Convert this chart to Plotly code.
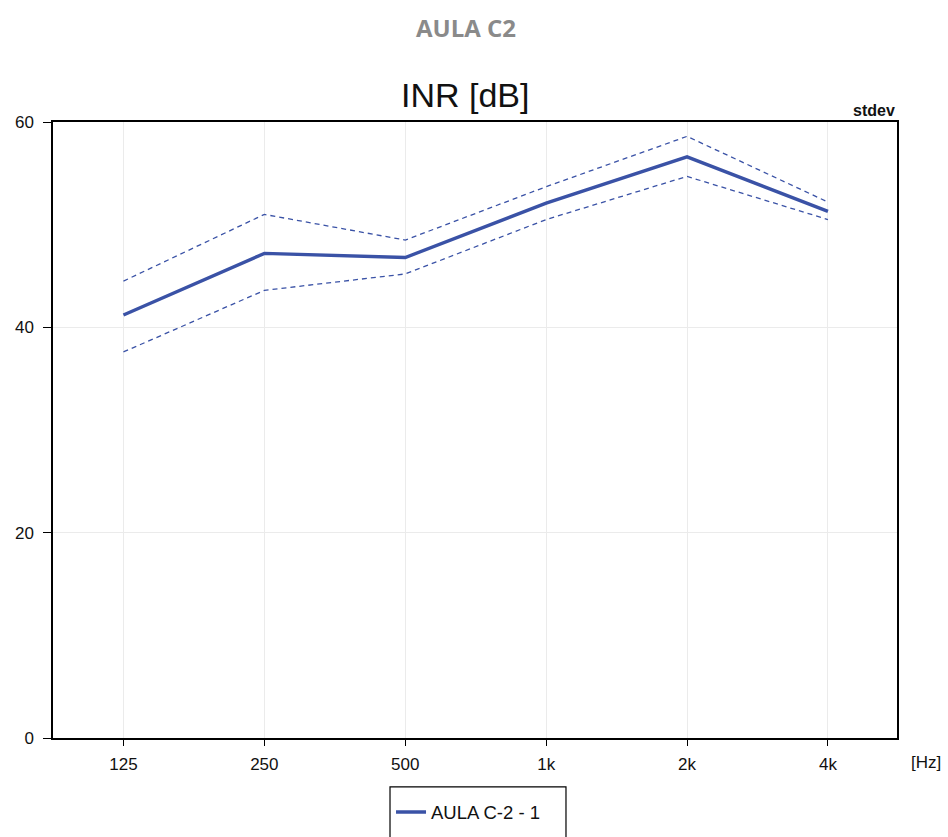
import plotly.graph_objects as go

# Octave-band centre frequencies
bands = ["125", "250", "500", "1k", "2k", "4k"]

# Mean INR per band and ±1 standard deviation envelope
inr_mean = [41.2, 47.2, 46.8, 52.1, 56.6, 51.3]
inr_upper = [44.5, 51.0, 48.5, 53.7, 58.6, 52.2]
inr_lower = [37.6, 43.6, 45.2, 50.5, 54.7, 50.5]

y_ticks = [0, 20, 40, 60]

line_color = "#3A52A6"
sans = "Liberation Sans, Arial, sans-serif"
axis_font = dict(family=sans, size=17, color="#111111")

fig = go.Figure()

fig.add_trace(go.Scatter(
    x=bands, y=inr_upper, mode="lines",
    line=dict(color=line_color, width=1.3, dash="5px,4px"),
    showlegend=False, hoverinfo="skip",
))
fig.add_trace(go.Scatter(
    x=bands, y=inr_lower, mode="lines",
    line=dict(color=line_color, width=1.3, dash="5px,4px"),
    showlegend=False, hoverinfo="skip",
))
fig.add_trace(go.Scatter(
    x=bands, y=inr_mean, mode="lines", name="AULA C-2 - 1",
    line=dict(color=line_color, width=3.4),
))

fig.update_layout(
    width=948, height=837,
    margin=dict(l=53, r=51, t=122, b=99, autoexpand=False),
    paper_bgcolor="white", plot_bgcolor="white",
    showlegend=True,
    legend=dict(
        orientation="h", x=0.4005, xanchor="left", y=-0.09, yanchor="top",
        borderwidth=0, bgcolor="rgba(0,0,0,0)",
        font=dict(family=sans, size=18.5, color="#111111"),
        itemwidth=30,
    ),
    xaxis=dict(
        type="category", range=[-0.5, 5.49],
        showgrid=True, gridcolor="#EBEBEB", gridwidth=1,
        ticks="outside", ticklen=6, tickcolor="black",
        ticklabelstandoff=4,
        showline=True, linecolor="black", linewidth=1.5, mirror=True,
        tickfont=axis_font, zeroline=False,
    ),
    yaxis=dict(
        range=[0, 60], tickvals=y_ticks,
        showgrid=True, gridcolor="#EBEBEB", gridwidth=1,
        ticks="outside", ticklen=8, tickcolor="black",
        ticklabelstandoff=6,
        showline=True, linecolor="black", linewidth=1.5, mirror=True,
        tickfont=axis_font, zeroline=False,
    ),
    shapes=[
        # frame around the legend entry
        dict(type="rect", xref="paper", yref="paper",
             x0=0.3993, x1=0.6078, y0=-0.0795, y1=-0.19,
             line=dict(color="black", width=1.2), fillcolor="rgba(0,0,0,0)"),
    ],
    annotations=[
        dict(text="<b>AULA C2</b>", xref="paper", yref="paper", x=0.489, y=1.154,
             xanchor="center", yanchor="middle", showarrow=False,
             font=dict(family="Open Sans, Lato, sans-serif", size=24, color="#8A8A8A")),
        dict(text="INR [dB]", xref="paper", yref="paper", x=0.488, y=1.044,
             xanchor="center", yanchor="middle", showarrow=False,
             font=dict(family=sans, size=34, color="#111111")),
        dict(text="<b>stdev</b>", xref="paper", yref="paper", x=1.0, y=1.0,
             xanchor="right", yanchor="bottom", showarrow=False, yshift=1,
             font=dict(family=sans, size=16, color="#111111")),
        dict(text="[Hz]", xref="paper", yref="paper", x=1.0, y=-0.04,
             xanchor="left", yanchor="middle", showarrow=False, xshift=12,
             font=axis_font),
    ],
)

fig.write_html("out.html")
